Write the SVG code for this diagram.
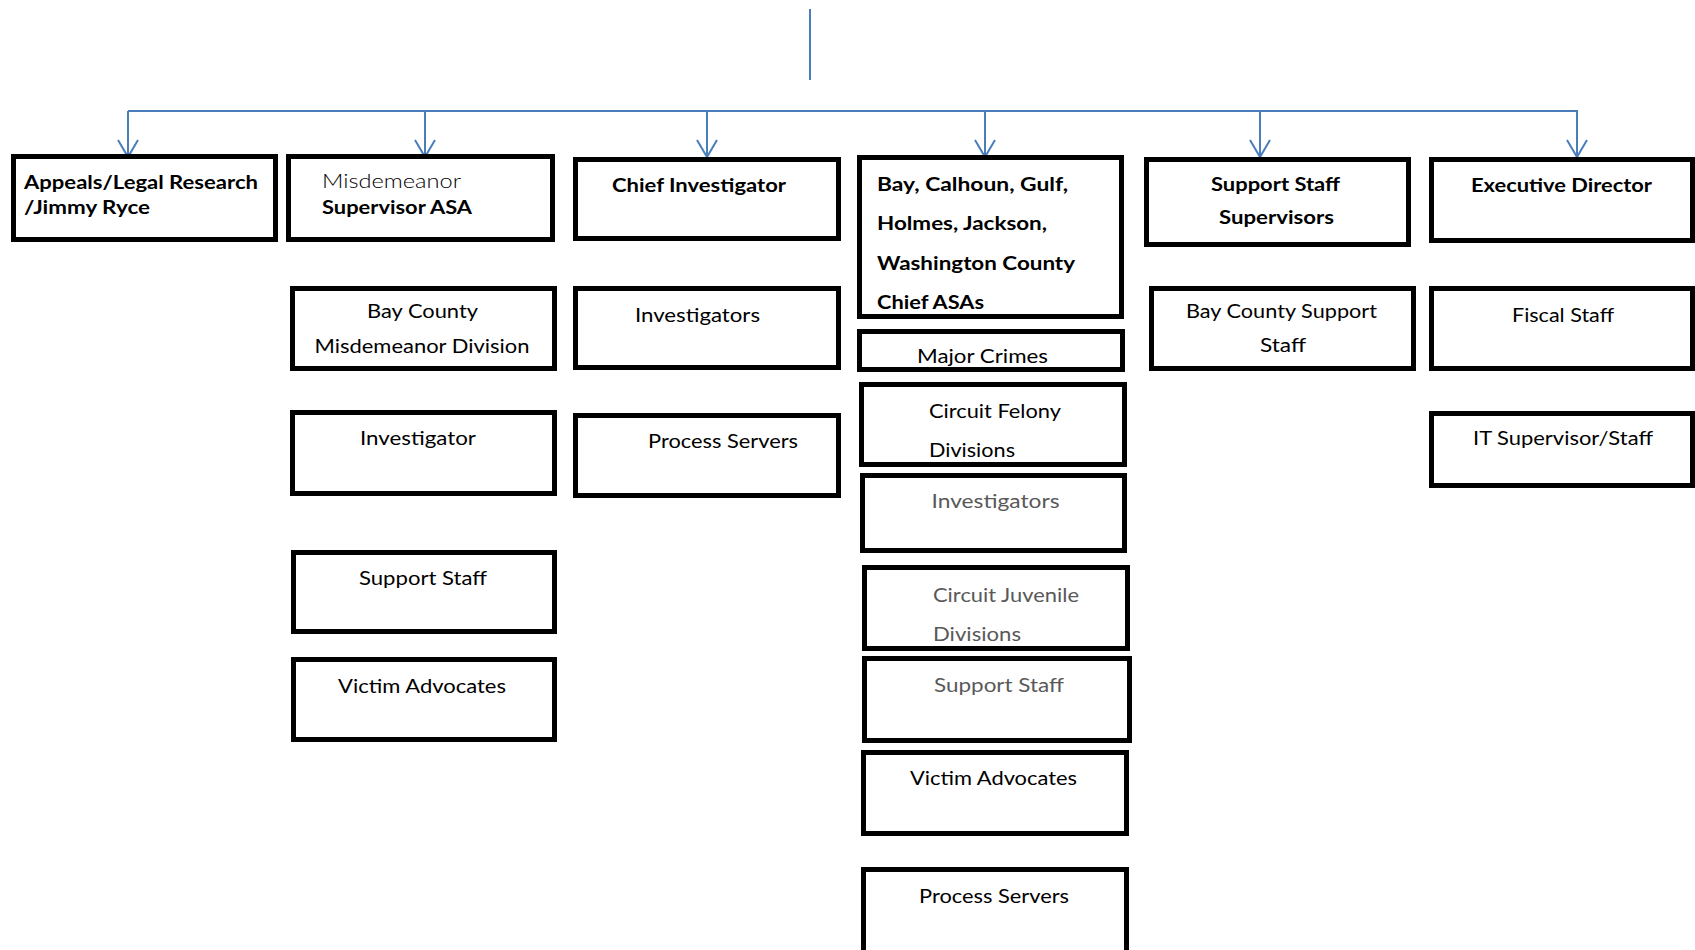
<svg xmlns="http://www.w3.org/2000/svg" width="1695" height="950" viewBox="0 0 1695 950">
  <defs>
    <style>
      .box { fill: #ffffff; stroke: #000000; stroke-width: 5; }
      .t { font-family: Lato, "Open Sans", "Liberation Sans", sans-serif; font-size: 19.5px; fill: #000000; }
      .b { font-weight: 700; }
      .l { font-weight: 300; }
      .g { fill: #595959; }
      .wire { fill: none; stroke: #4a7ebb; stroke-width: 2; }
    </style>
    <marker id="vee" markerWidth="24" markerHeight="20" refX="11" refY="18" orient="0" markerUnits="userSpaceOnUse">
      <path d="M1,1 L11,18 L21,1" fill="none" stroke="#4a7ebb" stroke-width="2"/>
    </marker>
  </defs>
  <rect width="1695" height="950" fill="#ffffff"/>

  <!-- connectors -->
  <g id="connectors">
    <line class="wire" x1="810" y1="9" x2="810" y2="80"/>
    <line class="wire" x1="128" y1="111" x2="1578" y2="111"/>
    <line class="wire" x1="128" y1="111" x2="128" y2="157" marker-end="url(#vee)"/>
    <line class="wire" x1="425" y1="111" x2="425" y2="157" marker-end="url(#vee)"/>
    <line class="wire" x1="707" y1="111" x2="707" y2="157" marker-end="url(#vee)"/>
    <line class="wire" x1="985" y1="111" x2="985" y2="157" marker-end="url(#vee)"/>
    <line class="wire" x1="1260" y1="111" x2="1260" y2="157" marker-end="url(#vee)"/>
    <line class="wire" x1="1577" y1="111" x2="1577" y2="157" marker-end="url(#vee)"/>
  </g>

  <!-- first row -->
  <g id="appeals">
    <rect class="box" x="13.5" y="156.5" width="262" height="83"/>
    <text class="t b" x="24" y="189" textLength="234" lengthAdjust="spacingAndGlyphs">Appeals/Legal Research</text>
    <text class="t b" x="24" y="214" textLength="126" lengthAdjust="spacingAndGlyphs">/Jimmy Ryce</text>
  </g>
  <g id="misdemeanor-supervisor">
    <rect class="box" x="288.5" y="156.5" width="264" height="83"/>
    <text class="t l" x="322" y="188" textLength="139" lengthAdjust="spacingAndGlyphs">Misdemeanor</text>
    <text class="t b" x="322" y="214" textLength="150" lengthAdjust="spacingAndGlyphs">Supervisor ASA</text>
  </g>
  <g id="chief-investigator">
    <rect class="box" x="575.5" y="159.5" width="263" height="79"/>
    <text class="t b" x="612" y="192" textLength="174" lengthAdjust="spacingAndGlyphs">Chief Investigator</text>
  </g>
  <g id="county-chiefs">
    <rect class="box" x="859.5" y="157.5" width="262" height="159"/>
    <text class="t b" x="877" y="191" textLength="191" lengthAdjust="spacingAndGlyphs">Bay, Calhoun, Gulf,</text>
    <text class="t b" x="877" y="230" textLength="170" lengthAdjust="spacingAndGlyphs">Holmes, Jackson,</text>
    <text class="t b" x="877" y="270" textLength="198" lengthAdjust="spacingAndGlyphs">Washington County</text>
    <text class="t b" x="877" y="309" textLength="107" lengthAdjust="spacingAndGlyphs">Chief ASAs</text>
  </g>
  <g id="support-supervisors">
    <rect class="box" x="1146.5" y="159.5" width="262" height="85"/>
    <text class="t b" x="1211" y="191" textLength="129" lengthAdjust="spacingAndGlyphs">Support Staff</text>
    <text class="t b" x="1219" y="224" textLength="115" lengthAdjust="spacingAndGlyphs">Supervisors</text>
  </g>
  <g id="executive-director">
    <rect class="box" x="1431.5" y="159.5" width="261" height="81"/>
    <text class="t b" x="1471" y="192" textLength="181" lengthAdjust="spacingAndGlyphs">Executive Director</text>
  </g>

  <!-- misdemeanor column -->
  <g id="misdemeanor-division">
    <rect class="box" x="292.5" y="288.5" width="262" height="80"/>
    <text class="t" x="367" y="318" textLength="111" lengthAdjust="spacingAndGlyphs">Bay County</text>
    <text class="t" x="314.5" y="353" textLength="215" lengthAdjust="spacingAndGlyphs">Misdemeanor Division</text>
  </g>
  <g id="misdemeanor-investigator">
    <rect class="box" x="292.5" y="412.5" width="262" height="81"/>
    <text class="t" x="360" y="445" textLength="116" lengthAdjust="spacingAndGlyphs">Investigator</text>
  </g>
  <g id="misdemeanor-support">
    <rect class="box" x="293.5" y="552.5" width="261" height="79"/>
    <text class="t" x="359" y="585" textLength="128" lengthAdjust="spacingAndGlyphs">Support Staff</text>
  </g>
  <g id="misdemeanor-advocates">
    <rect class="box" x="293.5" y="659.5" width="261" height="80"/>
    <text class="t" x="338" y="693" textLength="168" lengthAdjust="spacingAndGlyphs">Victim Advocates</text>
  </g>

  <!-- investigator column -->
  <g id="investigators">
    <rect class="box" x="575.5" y="288.5" width="263" height="79"/>
    <text class="t" x="635" y="322" textLength="125" lengthAdjust="spacingAndGlyphs">Investigators</text>
  </g>
  <g id="process-servers">
    <rect class="box" x="575.5" y="415.5" width="263" height="80"/>
    <text class="t" x="648" y="448" textLength="150" lengthAdjust="spacingAndGlyphs">Process Servers</text>
  </g>

  <!-- county column -->
  <g id="major-crimes">
    <rect class="box" x="859.5" y="331.5" width="263" height="38"/>
    <text class="t" x="917" y="363" textLength="131" lengthAdjust="spacingAndGlyphs">Major Crimes</text>
  </g>
  <g id="felony-divisions">
    <rect class="box" x="861.5" y="384.5" width="263" height="80"/>
    <text class="t" x="929" y="418" textLength="132" lengthAdjust="spacingAndGlyphs">Circuit Felony</text>
    <text class="t" x="929" y="457" textLength="86" lengthAdjust="spacingAndGlyphs">Divisions</text>
  </g>
  <g id="felony-investigators">
    <rect class="box" x="862.5" y="475.5" width="262" height="75"/>
    <text class="t g" x="931.5" y="508" textLength="128" lengthAdjust="spacingAndGlyphs">Investigators</text>
  </g>
  <g id="juvenile-divisions">
    <rect class="box" x="864.5" y="567.5" width="263" height="81"/>
    <text class="t g" x="933" y="602" textLength="146" lengthAdjust="spacingAndGlyphs">Circuit Juvenile</text>
    <text class="t g" x="933" y="641" textLength="88" lengthAdjust="spacingAndGlyphs">Divisions</text>
  </g>
  <g id="county-support">
    <rect class="box" x="864.5" y="658.5" width="265" height="82"/>
    <text class="t g" x="934" y="692" textLength="130" lengthAdjust="spacingAndGlyphs">Support Staff</text>
  </g>
  <g id="county-advocates">
    <rect class="box" x="863.5" y="752.5" width="263" height="81"/>
    <text class="t" x="910" y="785" textLength="167" lengthAdjust="spacingAndGlyphs">Victim Advocates</text>
  </g>
  <g id="county-process-servers">
    <rect class="box" x="863.5" y="869.5" width="263" height="100"/>
    <text class="t" x="919" y="903" textLength="150" lengthAdjust="spacingAndGlyphs">Process Servers</text>
  </g>

  <!-- support column -->
  <g id="bay-support-staff">
    <rect class="box" x="1151.5" y="288.5" width="262" height="80"/>
    <text class="t" x="1186" y="318" textLength="191" lengthAdjust="spacingAndGlyphs">Bay County Support</text>
    <text class="t" x="1260" y="352" textLength="46" lengthAdjust="spacingAndGlyphs">Staff</text>
  </g>

  <!-- executive column -->
  <g id="fiscal-staff">
    <rect class="box" x="1431.5" y="288.5" width="261" height="80"/>
    <text class="t" x="1512" y="322" textLength="102" lengthAdjust="spacingAndGlyphs">Fiscal Staff</text>
  </g>
  <g id="it-staff">
    <rect class="box" x="1431.5" y="413.5" width="261" height="72"/>
    <text class="t" x="1473" y="445" textLength="180" lengthAdjust="spacingAndGlyphs">IT Supervisor/Staff</text>
  </g>
</svg>
